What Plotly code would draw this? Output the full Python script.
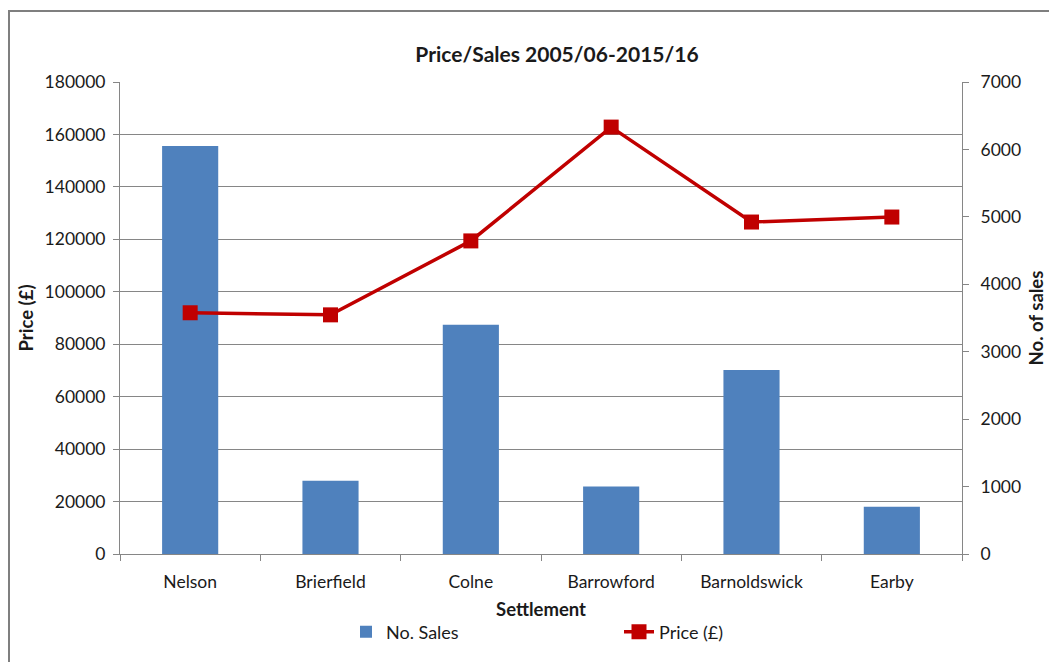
import plotly.graph_objects as go

settlements = ["Nelson", "Brierfield", "Colne", "Barrowford", "Barnoldswick", "Earby"]
no_sales = [6050, 1085, 3400, 1000, 2730, 700]
price = [92000, 91200, 119400, 162800, 126600, 128500]

W, H = 1057, 662
OFF = 8  # page body margin offset
# desired plot area in page pixels
PL, PT, PR, PB = 120, 82, 962, 554
L = PL - OFF
T = PT - OFF
pw, ph = PR - PL, PB - PT
R = W - L - pw
B = H - T - ph

font_family = "Lato, 'Open Sans', sans-serif"
axis_col = "#868686"
txt_col = "#1a1a1a"


def px2paper_x(page_x):
    return (page_x - PL) / pw


def px2paper_y(page_y):
    return (PB - page_y) / ph


fig = go.Figure()
fig.add_trace(go.Bar(
    x=settlements, y=no_sales, name="No. Sales",
    marker=dict(color="#4F81BD", line=dict(width=0)),
    yaxis="y",
))
fig.add_trace(go.Scatter(
    x=settlements, y=price, name="Price (£)", mode="lines+markers",
    line=dict(color="#C00000", width=3.5),
    marker=dict(symbol="square", size=15, color="#C00000"),
    yaxis="y2",
))

fig.update_layout(
    width=W, height=H,
    margin=dict(l=L, r=R, t=T, b=B, autoexpand=False),
    paper_bgcolor="white", plot_bgcolor="white",
    font=dict(family=font_family, size=17.5, color=txt_col),
    title=dict(text="<b>Price/Sales 2005/06-2015/16</b>", x=(557 - OFF) / W, xanchor="center",
               xref="container", yref="container",
               y=1 - (55 - OFF) / H, yanchor="middle", font=dict(size=21, family=font_family)),
    bargap=0.6,
    showlegend=True,
    legend=dict(orientation="h", x=px2paper_x(346), xanchor="left", y=px2paper_y(632), yanchor="middle",
                entrywidth=228, entrywidthmode="pixels", font=dict(size=18),
                traceorder="normal", bgcolor="rgba(0,0,0,0)"),
    xaxis=dict(
        type="category", showgrid=False, showline=True, linecolor=axis_col, linewidth=1,
        ticks="outside", ticklen=6, tickcolor=axis_col, tickson="boundaries",
        tickfont=dict(size=17.5), range=[-0.5, 5.5], ticklabelstandoff=12,
        title=dict(text="<b>Settlement</b>", font=dict(size=18.5), standoff=12),
    ),
    yaxis=dict(
        side="right", range=[0, 7000], dtick=1000, showgrid=False,
        showline=True, linecolor=axis_col, linewidth=1,
        ticks="outside", ticklen=6, tickcolor=axis_col, tickfont=dict(size=17.5),
        ticklabelstandoff=8,
        title=dict(text="<b>No. of sales</b>", font=dict(size=18.5), standoff=9),
        zeroline=False,
    ),
    yaxis2=dict(
        side="left", overlaying="y", range=[0, 180000], dtick=20000,
        showgrid=True, gridcolor=axis_col, gridwidth=1,
        showline=True, linecolor=axis_col, linewidth=1,
        ticks="outside", ticklen=6, tickcolor=axis_col, tickfont=dict(size=17.5),
        ticklabelstandoff=4,
        title=dict(text="<b>Price (£)</b>", font=dict(size=18.5), standoff=6),
        zeroline=False, tickformat="d",
    ),
    shapes=[dict(type="rect", xref="paper", yref="paper",
                 x0=px2paper_x(9), x1=px2paper_x(W + 40),
                 y0=px2paper_y(H + 40), y1=px2paper_y(11),
                 line=dict(color="#7f7f7f", width=2), fillcolor="rgba(0,0,0,0)",
                 layer="below")],
)

fig.write_html("out.html")
